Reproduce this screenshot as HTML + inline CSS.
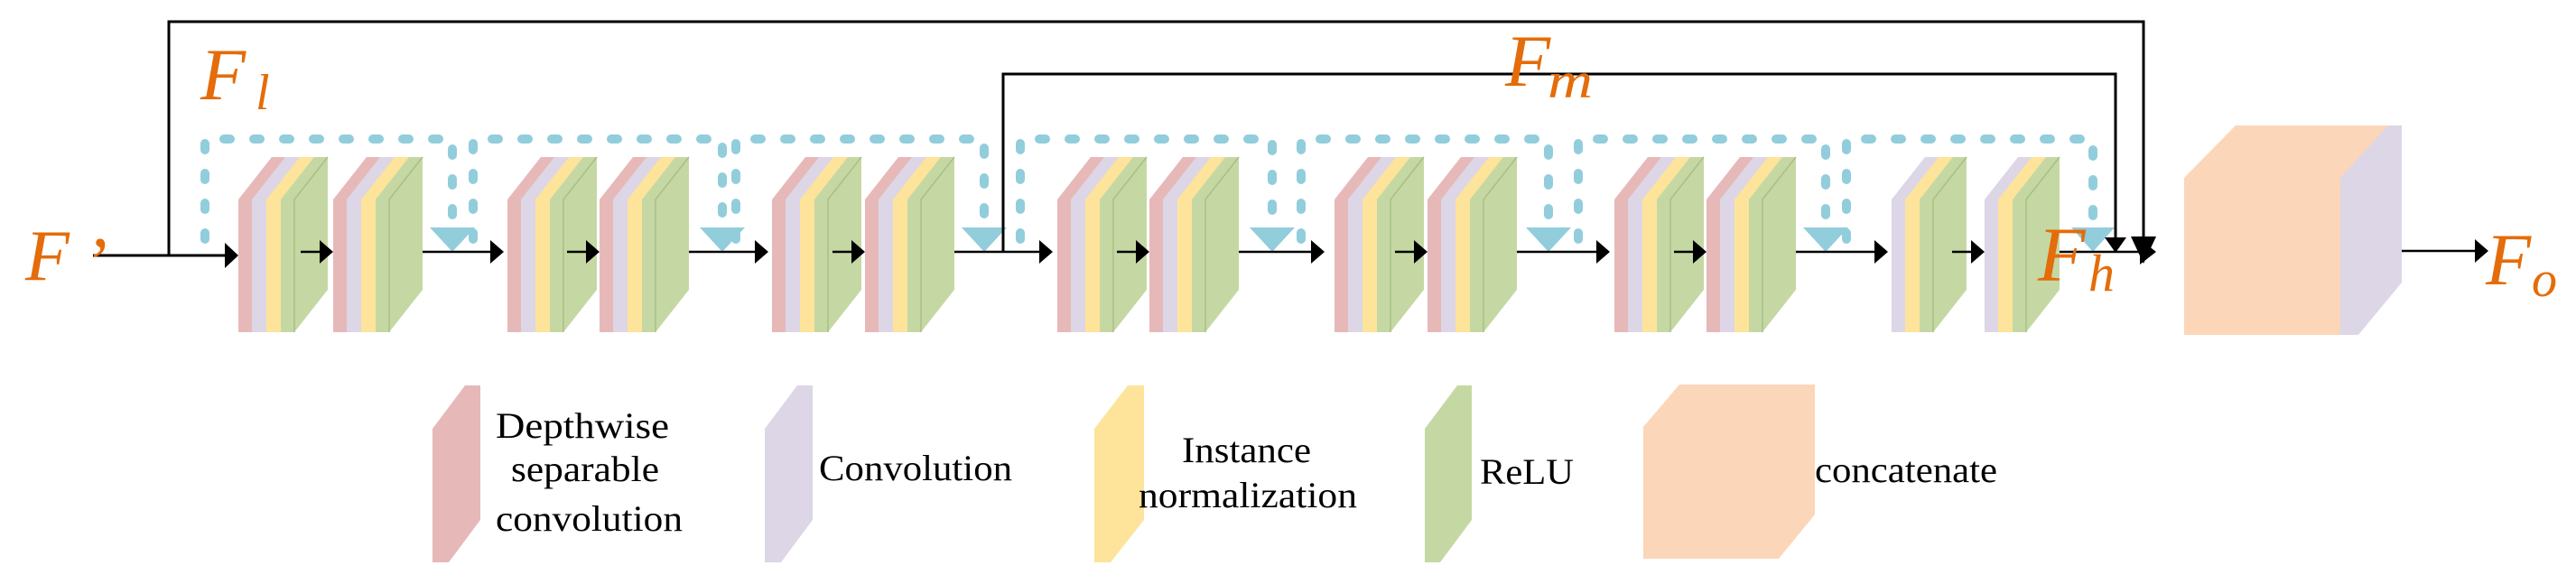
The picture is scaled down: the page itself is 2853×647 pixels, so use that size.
<!DOCTYPE html>
<html><head><meta charset="utf-8"><style>html,body{margin:0;padding:0;background:#fff}svg{display:block}</style></head>
<body>
<svg width="2853" height="647" viewBox="0 0 2853 647" xmlns="http://www.w3.org/2000/svg">
<defs>
<g id="b4">
<polygon points="0,368 0,221 37,174 52,174 52,321 15,368" fill="#e6b9b8"/>
<polygon points="15,368 15,221 52,174 68,174 68,321 31,368" fill="#dcd6e6"/>
<polygon points="31,368 31,221 68,174 84,174 84,321 47,368" fill="#fde49a"/>
<polygon points="47,368 47,221 84,174 99,174 99,321 62,368" fill="#c5d8a3"/>
<polyline points="62,368 62,221 99,174" fill="none" stroke="#a8bf86" stroke-width="1.5"/>
</g>
<g id="b3">
<polygon points="0,368 0,221 37,174 52,174 52,321 15,368" fill="#dcd6e6"/>
<polygon points="15,368 15,221 52,174 68,174 68,321 31,368" fill="#fde49a"/>
<polygon points="31,368 31,221 68,174 83,174 83,321 46,368" fill="#c5d8a3"/>
<polyline points="46,368 46,221 83,174" fill="none" stroke="#a8bf86" stroke-width="1.5"/>
</g>
</defs>

<use href="#b4" x="264"/><use href="#b4" x="369"/>
<use href="#b4" x="562"/><use href="#b4" x="664"/>
<use href="#b4" x="855"/><use href="#b4" x="958"/>
<use href="#b4" x="1171"/><use href="#b4" x="1273"/>
<use href="#b4" x="1478"/><use href="#b4" x="1581"/>
<use href="#b4" x="1788"/><use href="#b4" x="1890"/>
<use href="#b3" x="2095"/><use href="#b3" x="2198"/>

<g fill="none" stroke="#92cddc" stroke-width="10" stroke-linecap="round" stroke-dasharray="7 26">
<path d="M227,265 V154 H501 V250"/>
<path d="M524,265 V154 H800 V250"/>
<path d="M815,265 V154 H1090 V250"/>
<path d="M1130,265 V154 H1409 V250"/>
<path d="M1441,265 V154 H1715 V250"/>
<path d="M1748,265 V154 H2022 V250"/>
<path d="M2045,265 V154 H2318 V250"/>
</g>
<g fill="#92cddc">
<polygon points="476,252 526,252 501,279"/>
<polygon points="775,252 825,252 800,279"/>
<polygon points="1065,252 1115,252 1090,279"/>
<polygon points="1384,252 1434,252 1409,279"/>
<polygon points="1690,252 1740,252 1715,279"/>
<polygon points="1997,252 2047,252 2022,279"/>
<polygon points="2294,252 2342,252 2318,279"/>
</g>

<g fill="none" stroke="#000" stroke-width="3">
<path d="M103,283 H252"/>
<path d="M187,283 V24 H2374 V268"/>
<path d="M1111,279 V82 H2343 V265"/>
</g>
<g stroke="#000" stroke-width="2.5">
<line x1="333" y1="279" x2="356" y2="279"/>
<line x1="628" y1="279" x2="651" y2="279"/>
<line x1="922" y1="279" x2="945" y2="279"/>
<line x1="1237" y1="279" x2="1260" y2="279"/>
<line x1="1545" y1="279" x2="1568" y2="279"/>
<line x1="1854" y1="279" x2="1877" y2="279"/>
<line x1="2162" y1="279" x2="2185" y2="279"/>
<line x1="468" y1="279" x2="545" y2="279"/>
<line x1="763" y1="279" x2="838" y2="279"/>
<line x1="1057" y1="279" x2="1152" y2="279"/>
<line x1="1372" y1="279" x2="1455" y2="279"/>
<line x1="1680" y1="279" x2="1770" y2="279"/>
<line x1="1989" y1="279" x2="2078" y2="279"/>
<line x1="2281" y1="279" x2="2375" y2="279"/>
<line x1="2643" y1="278" x2="2742" y2="278"/>
</g>
<g fill="#000">
<polygon points="264,283 249,269 249,297"/>
<polygon points="369,279 354,266 354,292"/>
<polygon points="664,279 649,266 649,292"/>
<polygon points="958,279 943,266 943,292"/>
<polygon points="1273,279 1258,266 1258,292"/>
<polygon points="1581,279 1566,266 1566,292"/>
<polygon points="1890,279 1875,266 1875,292"/>
<polygon points="2198,279 2183,266 2183,292"/>
<polygon points="558,279 543,266 543,292"/>
<polygon points="851,279 836,266 836,292"/>
<polygon points="1166,279 1151,266 1151,292"/>
<polygon points="1467,279 1452,266 1452,292"/>
<polygon points="1783,279 1768,266 1768,292"/>
<polygon points="2091,279 2076,266 2076,292"/>
<polygon points="2388,279 2370,265 2370,293"/>
<polygon points="2360,262 2388,262 2374,292"/>
<polygon points="2331,263 2355,263 2343,280"/>
<polygon points="2756,278 2741,265 2741,291"/>
</g>

<polygon points="2419,371 2419,197 2476,139 2660,139 2592,197 2592,371" fill="#fbd6b8"/>
<polygon points="2592,371 2592,197 2645,139 2660,139 2660,313 2612,371" fill="#dcd6e6"/>

<g font-family="'Liberation Serif', serif" font-style="italic" fill="#e46c0a">
<text x="28" y="310" font-size="80">F</text>
<text x="92" y="318" font-size="80">’</text>
<text x="222" y="110" font-size="82">F</text>
<text x="283" y="121" font-size="56">l</text>
<text x="1667" y="95" font-size="82">F</text>
<text x="1714" y="108" font-size="56" textLength="50" lengthAdjust="spacingAndGlyphs">m</text>
<text x="2257" y="311" font-size="86">F</text>
<text x="2313" y="322" font-size="58">h</text>
<text x="2753" y="315" font-size="82">F</text>
<text x="2804" y="328" font-size="56">o</text>
</g>

<polygon points="479,623 479,475 515,427 532,427 532,576 497,623" fill="#e6b9b8"/>
<polygon points="847,623 847,475 883,427 900,427 900,576 865,623" fill="#dcd6e6"/>
<polygon points="1212,623 1212,475 1249,427 1267,427 1267,576 1230,623" fill="#fde49a"/>
<polygon points="1578,623 1578,475 1614,427 1630,427 1630,576 1595,623" fill="#c5d8a3"/>
<polygon points="1820,619 1820,473 1860,426 2010,426 2010,570 1970,619" fill="#fbd6b8"/>
<g font-family="'Liberation Serif', serif" font-size="40" fill="#000">
<text x="549" y="485" textLength="192" lengthAdjust="spacingAndGlyphs">Depthwise</text>
<text x="566" y="533" textLength="164" lengthAdjust="spacingAndGlyphs">separable</text>
<text x="549" y="588" textLength="207" lengthAdjust="spacingAndGlyphs">convolution</text>
<text x="907" y="532" textLength="214" lengthAdjust="spacingAndGlyphs">Convolution</text>
<text x="1309" y="512" textLength="143" lengthAdjust="spacingAndGlyphs">Instance</text>
<text x="1261" y="562" textLength="242" lengthAdjust="spacingAndGlyphs">normalization</text>
<text x="1639" y="536" textLength="104" lengthAdjust="spacingAndGlyphs">ReLU</text>
<text x="2010" y="534" textLength="202" lengthAdjust="spacingAndGlyphs">concatenate</text>
</g>
</svg>
</body></html>
